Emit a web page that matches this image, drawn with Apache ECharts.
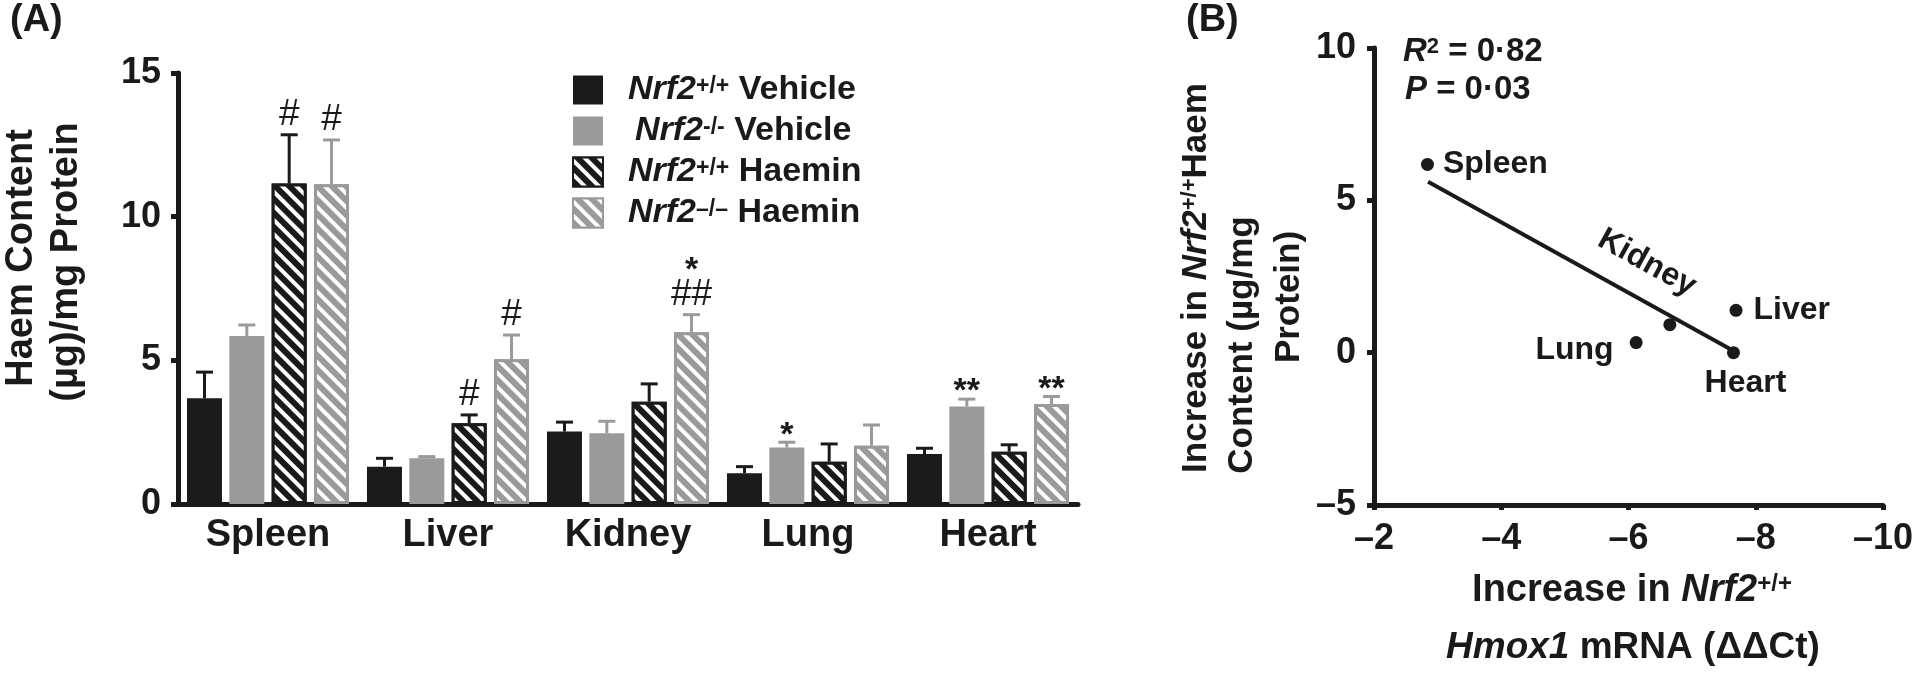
<!DOCTYPE html>
<html>
<head>
<meta charset="utf-8">
<script src="https://cdn.jsdelivr.net/npm/echarts@6/dist/echarts.min.js"></script>
<style>
  html, body { margin: 0; padding: 0; background: #fff; }
  #chart { width: 1920px; height: 673px; }
</style>
</head>
<body>
<div id="chart"></div>
<script>
// ---- panel A data: haem content (µg/mg protein) ----
const organs = ['Spleen', 'Liver', 'Kidney', 'Lung', 'Heart'];
const genotypes = ['+/+', '-/-', '+/+', '–/–'];
const treatments = ['Vehicle', 'Vehicle', 'Haemin', 'Haemin'];
const wtVehicle = [3.68, 1.30, 2.52, 1.07, 1.74];
const koVehicle = [5.85, 1.59, 2.46, 1.97, 3.39];
const wtHaemin = [11.15, 2.81, 3.56, 1.47, 1.82];
const koHaemin = [11.13, 5.04, 5.98, 2.03, 3.48];
// top of the error bar (mean + SEM)
const wtVehicleTop = [4.59, 1.59, 2.85, 1.30, 1.94];
const koVehicleTop = [6.23, 1.65, 2.88, 2.15, 3.65];
const wtHaeminTop = [12.85, 3.10, 4.18, 2.09, 2.06];
const koHaeminTop = [12.67, 5.88, 6.59, 2.75, 3.74];
// significance marks, listed bottom to top
const wtVehicleSig = [[], [], [], [], []];
const koVehicleSig = [[], [], [], ['*'], ['**']];
const wtHaeminSig = [['#'], ['#'], [], [], []];
const koHaeminSig = [['#'], ['#'], ['##', '*'], [], ['**']];
const yTicksA = [0, 5, 10, 15];

// ---- panel B data: correlation ----
const pointNames = ['Spleen', 'Liver', 'Kidney', 'Lung', 'Heart'];
const hmox1Ddct = [-2.84, -7.69, -6.65, -6.12, -7.65];
const haemIncrease = [6.18, 1.39, 0.92, 0.33, 0.0];
const fitX = [-2.85, -7.59];
const fitY = [5.61, 0.13];
const xTicksB = [-2, -4, -6, -8, -10];
const yTicksB = [-5, 0, 5, 10];

const FONT = '"Liberation Sans", Arial, Helvetica, sans-serif';
const INK = '#1a1a1a';
const GREY = '#9a9a9a';
const BAR_W = 35;
const BAR_GAP = 0.21;

const means = [wtVehicle, koVehicle, wtHaemin, koHaemin];
const tops = [wtVehicleTop, koVehicleTop, wtHaeminTop, koHaeminTop];
const sigs = [wtVehicleSig, koVehicleSig, wtHaeminSig, koHaeminSig];
const colors = [INK, GREY, INK, GREY];
const hatched = [false, false, true, true];
const names = genotypes.map((g, i) => 'Nrf2' + g + ' ' + treatments[i]);

const chart = echarts.init(document.getElementById('chart'));

function barSeries(g) {
  const s = {
    name: names[g],
    type: 'bar',
    xAxisIndex: 0,
    yAxisIndex: 0,
    barWidth: BAR_W,
    barGap: (BAR_GAP * 100) + '%',
    data: means[g],
    itemStyle: { color: colors[g] }
  };
  if (hatched[g]) {
    s.itemStyle.borderColor = colors[g];
    s.itemStyle.borderWidth = 3;
    s.itemStyle.decal = {
      symbol: 'rect',
      symbolSize: 1,
      dashArrayX: [1, 0],
      dashArrayY: [4, 6],
      rotation: Math.PI / 4,
      color: '#ffffff'
    };
  }
  return s;
}

// upper error bars and significance marks for one bar group
function errorSeries(g) {
  return {
    type: 'custom',
    xAxisIndex: 0,
    yAxisIndex: 0,
    silent: true,
    z: 3,
    data: organs.map((o, i) => [i, means[g][i], tops[g][i]]),
    encode: { x: 0, y: [1, 2] },
    renderItem: function (params, api) {
      const i = api.value(0);
      const dx = (g - 1.5) * BAR_W * (1 + BAR_GAP);
      const base = api.coord([i, api.value(1)]);
      const top = api.coord([i, api.value(2)]);
      const x = base[0] + dx;
      const st = { stroke: colors[g], lineWidth: 3 };
      const children = [
        { type: 'line', shape: { x1: x, y1: base[1], x2: x, y2: top[1] }, style: st },
        { type: 'line', shape: { x1: x - 8.5, y1: top[1], x2: x + 8.5, y2: top[1] }, style: st }
      ];
      let cy = top[1];
      sigs[g][i].forEach(function (m, k) {
        const star = m.indexOf('*') >= 0;
        cy -= k === 0 ? (star ? 15 : 20) : 32;
        children.push({
          type: 'text',
          x: x,
          y: cy + (star ? 8 : 0),
          style: {
            text: m,
            fill: INK,
            font: (star ? 'bold 34px ' : '37px ') + FONT,
            align: 'center',
            verticalAlign: 'middle'
          }
        });
      });
      return { type: 'group', children: children };
    }
  };
}

const labelPlace = {
  Spleen: { position: 'right', distance: 9 },
  Liver: { position: 'right', distance: 11 },
  Lung: { position: 'left', distance: 16, offset: [0, 8] },
  Heart: { position: 'bottom', distance: 8, offset: [12, 0] },
  Kidney: { position: 'inside', rotate: -29, offset: [-50, -43] }
};

const axisLine = { show: true, lineStyle: { color: INK, width: 5 } };
const tickLabel = { color: INK, fontFamily: FONT, fontWeight: 'bold', fontSize: 36 };

const option = {
  backgroundColor: '#fff',
  animation: false,
  textStyle: { fontFamily: FONT, color: INK },
  grid: [
    { left: 178, right: 842, top: 73, bottom: 169 },
    { left: 1374, right: 37, top: 48, bottom: 168 }
  ],
  legend: {
    data: names,
    orient: 'vertical',
    left: 572,
    top: 73,
    itemWidth: 30,
    itemHeight: 29,
    itemGap: 7,
    icon: 'rect',
    selectedMode: false,
    padding: 0,
    textStyle: {
      color: INK,
      fontFamily: FONT,
      fontSize: 34,
      lineHeight: 29,
      rich: {
        i: { fontStyle: 'italic', fontWeight: 'bold', fontSize: 34, padding: [0, 0, 0, 20], lineHeight: 29 },
        i2: { fontStyle: 'italic', fontWeight: 'bold', fontSize: 34, padding: [0, 0, 0, 27], lineHeight: 29 },
        sup: { fontWeight: 'bold', fontSize: 23, verticalAlign: 'top', lineHeight: 14 },
        t: { fontWeight: 'bold', fontSize: 34, lineHeight: 29 }
      }
    },
    formatter: function (name) {
      const k = names.indexOf(name);
      return '{' + (k === 1 ? 'i2' : 'i') + '|Nrf2}{sup|' + genotypes[k] + '}{t| ' + treatments[k] + '}';
    }
  },
  xAxis: [
    {
      type: 'category',
      gridIndex: 0,
      data: organs,
      axisLine: axisLine,
      axisTick: { alignWithLabel: true, length: 5, lineStyle: { color: INK, width: 6 } },
      axisLabel: { margin: 13, fontSize: 38, color: INK, fontFamily: FONT, fontWeight: 'bold' },
      splitLine: { show: false }
    },
    {
      type: 'value',
      gridIndex: 1,
      min: xTicksB[xTicksB.length - 1],
      max: xTicksB[0],
      interval: 2,
      inverse: true,
      axisLine: Object.assign({ onZero: false }, axisLine),
      axisTick: { length: 5, lineStyle: { color: INK, width: 5 } },
      axisLabel: Object.assign({ margin: 16, formatter: v => (v < 0 ? '–' + Math.abs(v) : v) }, tickLabel),
      splitLine: { show: false }
    }
  ],
  yAxis: [
    {
      type: 'value',
      gridIndex: 0,
      min: yTicksA[0],
      max: yTicksA[yTicksA.length - 1],
      interval: 5,
      axisLine: axisLine,
      axisTick: { show: true, length: 7, lineStyle: { color: INK, width: 5 } },
      axisLabel: Object.assign({ margin: 17 }, tickLabel),
      splitLine: { show: false }
    },
    {
      type: 'value',
      gridIndex: 1,
      min: yTicksB[0],
      max: yTicksB[yTicksB.length - 1],
      interval: 5,
      axisLine: Object.assign({ onZero: false }, axisLine),
      axisTick: { show: true, length: 7, lineStyle: { color: INK, width: 5 } },
      axisLabel: Object.assign({ margin: 18, formatter: v => (v < 0 ? '–' + Math.abs(v) : v) }, tickLabel),
      splitLine: { show: false }
    }
  ],
  series: [0, 1, 2, 3].map(barSeries).concat([0, 1, 2, 3].map(errorSeries)).concat([
    {
      type: 'line',
      xAxisIndex: 1,
      yAxisIndex: 1,
      symbol: 'none',
      silent: true,
      data: fitX.map((x, i) => [x, fitY[i]]),
      lineStyle: { color: INK, width: 4 }
    },
    {
      type: 'scatter',
      xAxisIndex: 1,
      yAxisIndex: 1,
      symbolSize: 13,
      itemStyle: { color: INK, opacity: 1 },
      data: pointNames.map((n, i) => ({
        name: n,
        value: [hmox1Ddct[i], haemIncrease[i]],
        label: Object.assign({
          show: true,
          formatter: n,
          color: INK,
          fontFamily: FONT,
          fontWeight: 'bold',
          fontSize: 32
        }, labelPlace[n])
      }))
    }
  ]),
  graphic: [
    { type: 'text', left: 10, top: 2, style: { text: '(A)', fill: INK, font: 'bold 38px ' + FONT } },
    { type: 'text', left: 1186, top: 2, style: { text: '(B)', fill: INK, font: 'bold 38px ' + FONT } },
    {
      type: 'text', x: 22, y: 258, rotation: Math.PI / 2,
      style: { text: 'Haem Content', fill: INK, font: 'bold 38px ' + FONT, align: 'center', verticalAlign: 'middle' }
    },
    {
      type: 'text', x: 67, y: 262, rotation: Math.PI / 2,
      style: { text: '(µg)/mg Protein', fill: INK, font: 'bold 38px ' + FONT, align: 'center', verticalAlign: 'middle' }
    },
    {
      type: 'text', x: 1196, y: 278, rotation: Math.PI / 2,
      style: {
        text: '{t|Increase in }{i|Nrf2}{sup|+/+}{t|Haem}',
        align: 'center', verticalAlign: 'middle',
        rich: {
          t: { fill: INK, font: 'bold 35px ' + FONT },
          i: { fill: INK, font: 'italic bold 35px ' + FONT },
          sup: { fill: INK, font: 'bold 22px ' + FONT, verticalAlign: 'top' }
        }
      }
    },
    {
      type: 'text', x: 1242, y: 345, rotation: Math.PI / 2,
      style: { text: 'Content (µg/mg', fill: INK, font: 'bold 35px ' + FONT, align: 'center', verticalAlign: 'middle' }
    },
    {
      type: 'text', x: 1289, y: 297, rotation: Math.PI / 2,
      style: { text: 'Protein)', fill: INK, font: 'bold 35px ' + FONT, align: 'center', verticalAlign: 'middle' }
    },
    {
      type: 'text', x: 1632, y: 591,
      style: {
        text: '{t|Increase in }{i|Nrf2}{sup|+/+}',
        align: 'center', verticalAlign: 'middle',
        rich: {
          t: { fill: INK, font: 'bold 38px ' + FONT },
          i: { fill: INK, font: 'italic bold 38px ' + FONT },
          sup: { fill: INK, font: 'bold 24px ' + FONT, verticalAlign: 'top' }
        }
      }
    },
    {
      type: 'text', x: 1633, y: 648,
      style: {
        text: '{i|Hmox1}{t| mRNA (ΔΔCt)}',
        align: 'center', verticalAlign: 'middle',
        rich: {
          t: { fill: INK, font: 'bold 37px ' + FONT },
          i: { fill: INK, font: 'italic bold 37px ' + FONT }
        }
      }
    },
    {
      type: 'text', x: 1403, y: 52,
      style: {
        text: '{i|R}{sup|2}{t| = 0·82}',
        verticalAlign: 'middle',
        rich: {
          t: { fill: INK, font: 'bold 33px ' + FONT },
          i: { fill: INK, font: 'italic bold 33px ' + FONT },
          sup: { fill: INK, font: 'bold 22px ' + FONT, verticalAlign: 'top' }
        }
      }
    },
    {
      type: 'text', x: 1405, y: 90,
      style: {
        text: '{i|P}{t| = 0·03}',
        verticalAlign: 'middle',
        rich: {
          t: { fill: INK, font: 'bold 33px ' + FONT },
          i: { fill: INK, font: 'italic bold 33px ' + FONT }
        }
      }
    }
  ]
};

chart.setOption(option);
</script>
</body>
</html>
